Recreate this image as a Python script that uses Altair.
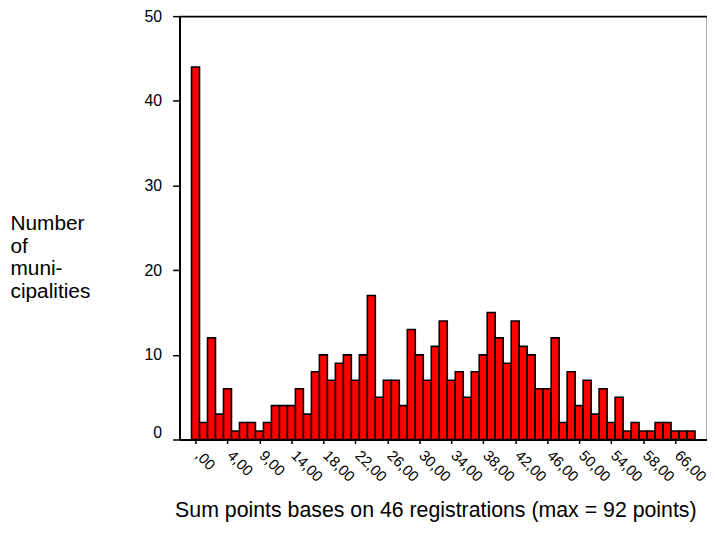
import json
import altair as alt
import pandas as pd

# Bar heights (number of municipalities) per category, left to right
counts = [44, 2, 12, 3, 6, 1, 2, 2, 1, 2,
          4, 4, 4, 6, 3, 8, 10, 7, 9, 10,
          7, 10, 17, 5, 7, 7, 4, 13, 10, 7,
          11, 14, 7, 8, 5, 8, 10, 15, 12, 9,
          14, 11, 10, 6, 6, 12, 2, 8, 4, 7,
          3, 6, 2, 5, 1, 2, 1, 1, 2, 2,
          1, 1, 1]
categories = list(range(len(counts)))

# Labelled categories (every 4th bar) and their labels
tick_cats = list(range(0, 61, 4))
tick_labels = [",00", "4,00", "9,00", "14,00", "18,00", "22,00", "26,00", "30,00",
               "34,00", "38,00", "42,00", "46,00", "50,00", "54,00", "58,00", "66,00"]

y_ticks = [0, 10, 20, 30, 40, 50]
x_title = "Sum points bases on 46 registrations (max = 92 points)"
y_title = ["Number", "of", "muni-", "cipalities"]

df = pd.DataFrame({"cat": categories, "n": counts})

FONT = "Liberation Sans, Arial, Helvetica, sans-serif"
label_expr = json.dumps(tick_labels) + "[round(datum.value / 4)]"

x_scale = alt.Scale(domain=[-2, 64], nice=False, zero=False, padding=0)
y_scale = alt.Scale(domain=[0, 50], nice=False, padding=0)

base = alt.Chart(df).transform_calculate(
    x0="datum.cat - 0.5", x1="datum.cat + 0.5"
)

bars = base.mark_bar(
    color="#FF0000", stroke="#000000", strokeWidth=1.6
).encode(
    x=alt.X(
        "x0:Q",
        scale=x_scale,
        axis=alt.Axis(
            orient="bottom",
            values=tick_cats,
            labelExpr=label_expr,
            labelAngle=45,
            labelAlign="left",
            labelBaseline="middle",
            labelPadding=9,
            labelOffset=2,
            labelFont=FONT,
            labelFontSize=15,
            labelColor="#000000",
            labelOverlap=False,
            labelFlush=False,
            tickSize=4,
            tickColor="#000000",
            tickWidth=1.5,
            domainColor="#000000",
            domainWidth=2,
            grid=False,
            title=x_title,
            titleFont=FONT,
            titleFontSize=21.5,
            titleFontWeight="normal",
            titleColor="#000000",
            titleX=258,
            titleY=78,
            titleAlign="center",
            titleBaseline="alphabetic",
        ),
    ),
    x2="x1:Q",
    y=alt.Y(
        "n:Q",
        scale=y_scale,
        axis=alt.Axis(
            orient="left",
            values=y_ticks,
            grid=False,
            tickSize=7,
            tickColor="#000000",
            tickWidth=1.5,
            domainColor="#000000",
            domainWidth=2,
            labelPadding=11,
            labelOffset={"condition": {"test": "datum.value === 0", "value": -7}, "value": 0},
            labelFont=FONT,
            labelFontSize=16,
            labelColor="#000000",
            title=y_title,
            titleAngle=0,
            titleAlign="left",
            titleBaseline="alphabetic",
            titleX=-171,
            titleY=215,
            titleLineHeight=23,
            titleFont=FONT,
            titleFontSize=21,
            titleFontWeight="normal",
            titleColor="#000000",
        ),
    ),
    y2=alt.datum(0),
)

# invisible layer that carries the top and right frame lines
frame = base.mark_bar(opacity=0).encode(
    x=alt.X("x0:Q", axis=alt.Axis(orient="top", labels=False, ticks=False, grid=False,
                                  title=None, domainColor="#000000", domainWidth=1.6)),
    x2="x1:Q",
    y=alt.Y("n:Q", axis=alt.Axis(orient="right", labels=False, ticks=False, grid=False,
                                 title=None, domainColor="#000000", domainWidth=1.6)),
    y2=alt.datum(0),
)

chart = alt.layer(bars, frame).resolve_axis(
    x="independent", y="independent"
).properties(
    width=532,
    height=427,
    autosize="none",
    padding={"left": 173, "top": 6, "right": 0, "bottom": 82},
).configure_view(
    stroke=None
)

chart.save("out.html", embed_options={"renderer": "svg", "actions": False})
